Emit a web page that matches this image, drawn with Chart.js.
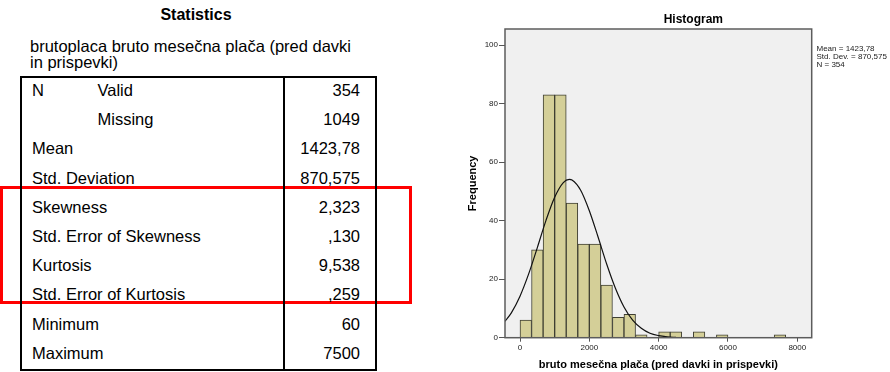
<!DOCTYPE html>
<html><head><meta charset="utf-8">
<script src="https://cdn.jsdelivr.net/npm/chart.js@4/dist/chart.umd.min.js"></script>
<style>
html,body{margin:0;padding:0;background:#fff;}
body{width:890px;height:372px;position:relative;overflow:hidden;font-family:"Liberation Sans",Arial,sans-serif;color:#000;}
.abs{position:absolute;white-space:nowrap;}
#hist{position:absolute;left:460px;top:0;}
</style></head><body>
<div id="stats"></div>
<canvas id="hist" width="430" height="372"></canvas>
<script>
// ---- Statistics table data ----
const tableTitle = 'Statistics';
const varLabelLines = ['brutoplaca bruto mesečna plača (pred davki', 'in prispevki)'];
const statNames = ['N', '', 'Mean', 'Std. Deviation', 'Skewness', 'Std. Error of Skewness', 'Kurtosis', 'Std. Error of Kurtosis', 'Minimum', 'Maximum'];
const statSub = ['Valid', 'Missing', '', '', '', '', '', '', '', ''];
const statValues = ['354', '1049', '1423,78', '870,575', '2,323', ',130', '9,538', ',259', '60', '7500'];

// ---- Histogram data ----
const histTitle = 'Histogram';
const binLower = [0, 333.33, 666.67, 1000, 1333.33, 1666.67, 2000, 2333.33, 2666.67, 3000, 3333.33, 3666.67, 4000, 4333.33, 4666.67, 5000, 5333.33, 5666.67, 6000, 6333.33, 6666.67, 7000, 7333.33];
const binCounts = [6, 30, 83, 83, 46, 32, 32, 18, 7, 8, 1, 0, 2, 2, 0, 2, 0, 1, 0, 0, 0, 0, 1];
const binWidth = 333.33;
const curveX = [-433, -250, 0, 250, 500, 750, 1000, 1250, 1424, 1500, 1750, 2000, 2250, 2500, 2750, 3000, 3250, 3500, 3750, 4000, 4250, 4500];
const curveY = [5.6, 8.5, 14.2, 21.8, 30.8, 40.1, 48.0, 53.0, 54.1, 53.9, 50.4, 43.4, 34.5, 25.2, 17.0, 10.5, 6.0, 3.2, 1.5, 0.7, 0.3, 0.1];
const xTickValues = [0, 2000, 4000, 6000, 8000];
const yTickValues = [0, 20, 40, 60, 80, 100];
const summaryLines = ['Mean = 1423,78', 'Std. Dev. = 870,575', 'N = 354'];
const xAxisTitle = 'bruto mesečna plača (pred davki in prispevki)';
const yAxisTitle = 'Frequency';

// ---- Build table ----
const st = document.getElementById('stats');
function addDiv(text, css) {
  const d = document.createElement('div');
  d.className = 'abs';
  d.textContent = text;
  Object.assign(d.style, css);
  st.appendChild(d);
  return d;
}
const FS = '16.5px';
// red highlight box (behind)
const red = document.createElement('div');
Object.assign(red.style, {position:'absolute', left:'0px', top:'186px', width:'412px', height:'118px', border:'3.5px solid #ff0000', boxSizing:'border-box'});
st.appendChild(red);

addDiv(tableTitle, {left:'96px', width:'200px', textAlign:'center', top:'6px', fontSize:'16px', fontWeight:'bold', lineHeight:'18px'});
varLabelLines.forEach((t, i) => addDiv(t, {left:'30px', top:(36.7 + i * 16.6) + 'px', fontSize:FS, lineHeight:'18px'}));

// table frame
const frame = document.createElement('div');
Object.assign(frame.style, {position:'absolute', left:'20px', top:'76px', width:'357px', height:'295px', border:'2.2px solid #000', boxSizing:'border-box'});
st.appendChild(frame);
const vline = document.createElement('div');
Object.assign(vline.style, {position:'absolute', left:'283px', top:'76px', width:'2.2px', height:'295px', background:'#000'});
st.appendChild(vline);

const rowH = 29.2, firstCenter = 90;
for (let i = 0; i < statValues.length; i++) {
  const top = (firstCenter + i * rowH - 9) + 'px';
  if (statNames[i]) addDiv(statNames[i], {left:'32px', top, fontSize:FS, lineHeight:'18px'});
  if (statSub[i]) addDiv(statSub[i], {left:'97.5px', top, fontSize:FS, lineHeight:'18px'});
  addDiv(statValues[i], {left:'260px', width:'100px', textAlign:'right', top, fontSize:FS, lineHeight:'18px'});
}

// ---- Histogram chart ----
Chart.defaults.font.family = '"Liberation Sans", Arial, sans-serif';
Chart.defaults.color = '#222';

const barData = binLower.map((b, i) => ({x: b + binWidth / 2, y: binCounts[i]}));
const lineData = curveX.map((x, i) => ({x, y: curveY[i]}));

const framePlugin = {
  id: 'framePlugin',
  beforeDraw(chart) {
    const {ctx, chartArea: a} = chart;
    ctx.save();
    ctx.fillStyle = '#f0f0f0';
    ctx.fillRect(a.left, a.top, a.right - a.left, a.bottom - a.top);
    ctx.restore();
  },
  afterDraw(chart) {
    const {ctx, chartArea: a} = chart;
    ctx.save();
    ctx.strokeStyle = '#5c5c5c';
    ctx.lineWidth = 1.5;
    ctx.strokeRect(a.left, a.top, a.right - a.left, a.bottom - a.top);
    ctx.fillStyle = '#000';
    ctx.font = 'bold 12px "Liberation Sans", Arial, sans-serif';
    ctx.textAlign = 'center';
    ctx.textBaseline = 'middle';
    ctx.fillText(histTitle, 233.3, 19.5);
    ctx.font = '8px "Liberation Sans", Arial, sans-serif';
    ctx.textAlign = 'left';
    ctx.fillStyle = '#222';
    summaryLines.forEach((t, i) => ctx.fillText(t, 356.5, 48.5 + i * 8));
    ctx.restore();
  }
};

new Chart(document.getElementById('hist'), {
  type: 'bar',
  data: {
    datasets: [
      {
        type: 'line',
        data: lineData,
        borderColor: '#111',
        borderWidth: 1.2,
        pointRadius: 0,
        cubicInterpolationMode: 'monotone',
        fill: false,
        order: 0
      },
      {
        type: 'bar',
        data: barData,
        backgroundColor: '#d4cf98',
        borderColor: '#3f3f33',
        borderWidth: 1,
        barPercentage: 1,
        categoryPercentage: 1,
        order: 1
      }
    ]
  },
  options: {
    responsive: false,
    animation: false,
    layout: {padding: {left: 0, right: 78.3, top: 29, bottom: 0}},
    plugins: {legend: {display: false}, tooltip: {enabled: false}, title: {display: false}},
    scales: {
      x: {
        type: 'linear',
        offset: false,
        min: -433,
        max: 8416,
        afterBuildTicks: s => { s.ticks = xTickValues.map(v => ({value: v})); },
        afterFit: s => { s.height = 34.3; },
        grid: {drawOnChartArea: false, drawTicks: true, tickLength: 4, color: '#555', offset: false},
        border: {display: false},
        ticks: {font: {size: 8}, padding: 1, maxRotation: 0, callback: v => String(v), color: '#222'},
        title: {display: true, text: xAxisTitle, font: {size: 11, weight: 'bold'}, color: '#000', padding: {top: 0, bottom: 0}}
      },
      y: {
        min: 0,
        max: 105.5,
        afterBuildTicks: s => { s.ticks = yTickValues.map(v => ({value: v})); },
        afterFit: s => { s.width = 45; },
        grid: {drawOnChartArea: false, drawTicks: true, tickLength: 6, color: '#555'},
        border: {display: false},
        ticks: {font: {size: 8}, padding: 1, callback: v => String(v), color: '#222'},
        title: {display: true, text: yAxisTitle, font: {size: 11, weight: 'bold'}, color: '#000', padding: {top: 6.7, bottom: 0}}
      }
    }
  },
  plugins: [framePlugin]
});
</script>
</body></html>
